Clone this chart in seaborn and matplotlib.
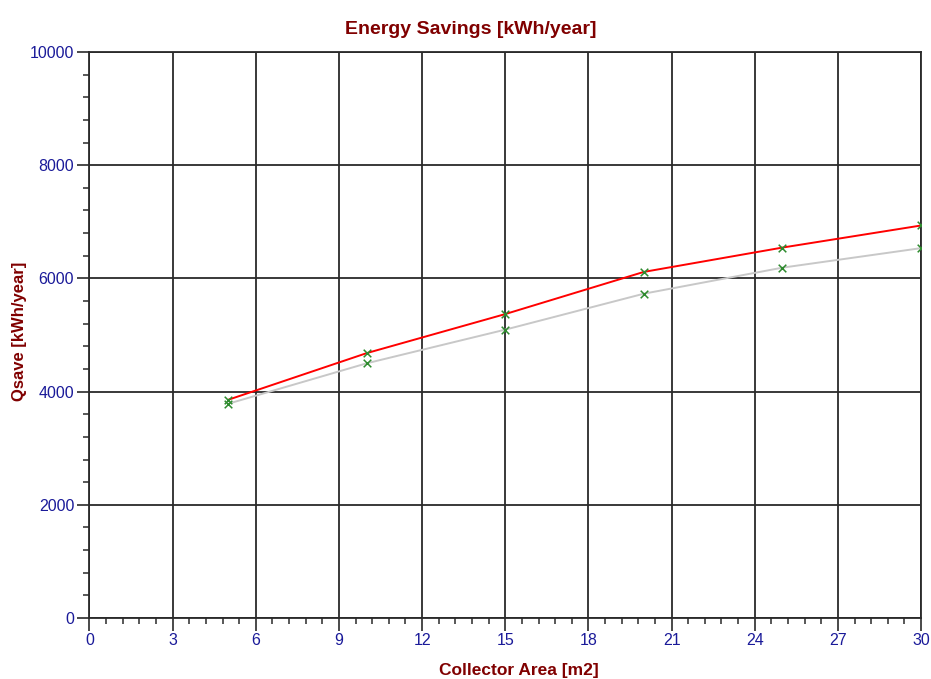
import matplotlib
matplotlib.use("Agg")
import matplotlib.pyplot as plt
import numpy as np
import pandas as pd
import seaborn as sns
from matplotlib.ticker import MultipleLocator

# data
area       = [5, 10, 15, 20, 25, 30]
qsave_high = [3855, 4680, 5370, 6115, 6545, 6935]
qsave_low  = [3785, 4500, 5095, 5730, 6190, 6535]

TITLE_RED = "#800000"
TICK_BLUE = "#1a1a99"

sns.set_theme(style="white")
plt.rcParams["font.family"] = ["Liberation Sans", "DejaVu Sans"]

df = pd.DataFrame({
    "area" : area * 2,
    "qsave": qsave_high + qsave_low,
    "case" : ["high"] * len(area) + ["low"] * len(area),
})

fig = plt.figure(figsize=(9.31, 6.79), dpi=100)
ax = fig.add_axes([0.0961, 0.0898, 0.8932, 0.8336])

sns.lineplot(data=df, x="area", y="qsave", hue="case",
             palette={"high": "#ff0000", "low": "#c8c8c8"},
             hue_order=["low", "high"], linewidth=1.4,
             legend=False, ax=ax, zorder=3)
sns.scatterplot(data=df, x="area", y="qsave", marker="x", color="#2e8b2e",
                s=30, linewidth=1.1, legend=False, ax=ax, zorder=4)

ax.set_xlim(0, 30)
ax.set_ylim(0, 10000)
ax.xaxis.set_major_locator(MultipleLocator(3))
ax.xaxis.set_minor_locator(MultipleLocator(0.6))
ax.yaxis.set_major_locator(MultipleLocator(2000))
ax.yaxis.set_minor_locator(MultipleLocator(400))

ax.grid(True, which="major", color="#2a2a2a", linewidth=1.3, zorder=1)
ax.set_axisbelow(True)
for sp in ax.spines.values():
    sp.set_color("#2a2a2a")
    sp.set_linewidth(1.3)

ax.tick_params(which="major", direction="out", length=9, width=1.2,
               color="#2a2a2a", labelcolor=TICK_BLUE, labelsize=11.5,
               left=True, bottom=True, pad=2)
ax.tick_params(which="minor", direction="out", length=4, width=1.1,
               color="#2a2a2a", left=True, bottom=True)
ax.set_xlabel("")
ax.set_ylabel("")

fig.text(0.506, 1 - 29 / 679, "Energy Savings [kWh/year]", color=TITLE_RED,
         fontsize=14, fontweight="bold", ha="center", va="center")
fig.text(0.557, 1 - 671 / 679, "Collector Area [m2]", color=TITLE_RED,
         fontsize=12.5, fontweight="bold", ha="center", va="center")
fig.text(20 / 931, 1 - 331 / 679, "Qsave [kWh/year]", color=TITLE_RED,
         fontsize=12, fontweight="bold", ha="center", va="center",
         rotation=90)

fig.savefig("out.png", dpi=100, facecolor="white")
plt.close(fig)
